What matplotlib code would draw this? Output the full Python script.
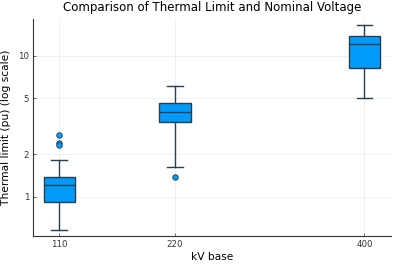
import matplotlib.pyplot as plt
from matplotlib.ticker import FixedLocator, NullLocator, FixedFormatter

kv = [110, 220, 400]
q1 = [0.91, 3.40, 8.26]
med = [1.21, 3.97, 12.2]
q3 = [1.38, 4.66, 13.9]
whislo = [0.577, 1.62, 5.0]
whishi = [1.83, 6.12, 16.7]
fliers = [[2.76, 2.42, 2.32], [1.38], []]

edge = "#26404f"
fill = "#009afa"

stats = []
for i in range(len(kv)):
    stats.append(dict(med=med[i], q1=q1[i], q3=q3[i], whislo=whislo[i],
                      whishi=whishi[i], fliers=fliers[i]))

fig = plt.figure(figsize=(3.99, 2.66), dpi=100)
ax = fig.add_axes([33.3 / 399, 1 - 236.3 / 266, (390.7 - 33.3) / 399, (236.3 - 19) / 266])

ax.bxp(stats, positions=kv, widths=30, patch_artist=True,
       boxprops=dict(facecolor=fill, edgecolor=edge, linewidth=1.0),
       medianprops=dict(color=edge, linewidth=1.0),
       whiskerprops=dict(color=edge, linewidth=1.0),
       capprops=dict(color=edge, linewidth=1.0),
       capwidths=15,
       flierprops=dict(marker="o", markerfacecolor=fill, markeredgecolor=edge,
                       markersize=4, markeredgewidth=0.6))

ax.set_yscale("log")
ax.set_ylim(0.523, 18.3)
ax.set_xlim(85.3, 425)
ax.yaxis.set_major_locator(FixedLocator([1, 2, 5, 10]))
ax.yaxis.set_major_formatter(FixedFormatter(["1", "2", "5", "10"]))
ax.yaxis.set_minor_locator(NullLocator())
ax.set_xticks(kv)
ax.set_xticklabels([str(k) for k in kv])

ax.grid(True, color="#000000", alpha=0.06, linewidth=0.6)
ax.set_axisbelow(True)
for s in ["top", "right"]:
    ax.spines[s].set_visible(False)
for s in ["left", "bottom"]:
    ax.spines[s].set_color("#333333")
    ax.spines[s].set_linewidth(0.8)
ax.tick_params(axis="both", direction="in", length=2, width=0.5,
               labelsize=6.2, color="#333333", labelcolor="#333333", pad=3)

ax.set_title("Comparison of Thermal Limit and Nominal Voltage", fontsize=8.5, pad=6)
ax.set_xlabel("kV base", fontsize=7.7, labelpad=2)
ax.set_ylabel("Thermal limit (pu) (log scale)", fontsize=7.7, labelpad=5)

fig.savefig("out.png", dpi=100)
